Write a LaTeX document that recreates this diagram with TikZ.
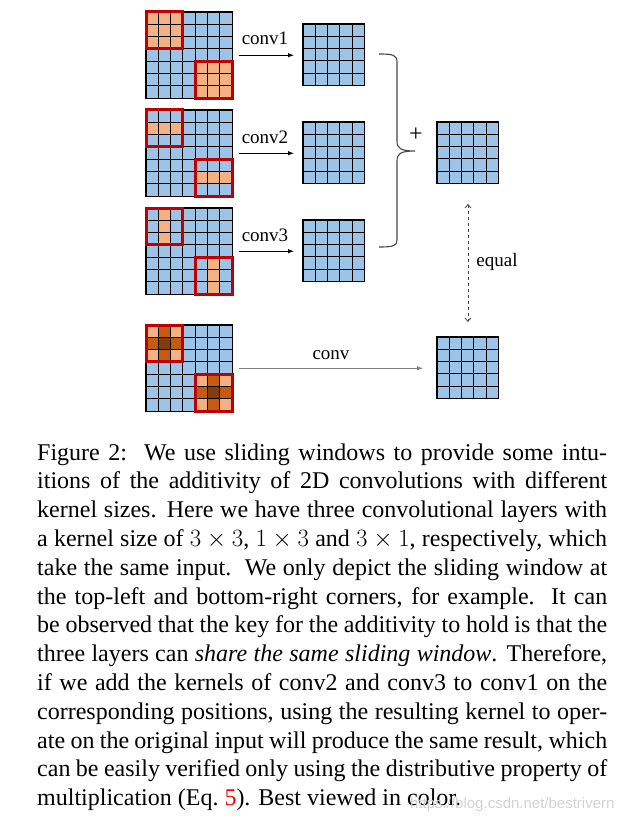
\documentclass[tikz,border=0pt]{standalone}
\usepackage[no-math]{fontspec}
\setmainfont{Liberation Serif}
\newfontfamily\wmfont{Liberation Sans}
\usetikzlibrary{arrows.meta}
\definecolor{cellblue}{RGB}{157,195,230}
\definecolor{cellorange}{RGB}{244,177,131}
\definecolor{cellmid}{RGB}{197,90,17}
\definecolor{celldark}{RGB}{132,60,12}
\definecolor{winred}{RGB}{192,0,0}
\definecolor{bracegray}{RGB}{70,70,70}
\definecolor{arrowgray}{RGB}{128,128,128}
\tikzset{
  gridline/.style={line width=1.1pt, black, line cap=rect},
  window/.style={line width=3pt, winred},
  lbl/.style={font=\fontsize{19}{22}\selectfont, inner sep=0pt},
  convarrow/.style={-{Latex[length=6pt,width=4.5pt]}, line width=0.9pt},
  gridbox/.style={inner sep=0pt, minimum width=#1, minimum height=#1, draw=none, anchor=north west},
  capline/.style={anchor=base west, inner sep=0pt, font=\fontsize{24}{28.8}\selectfont},
}
\def\cs{12.3}
\newcommand\bluegrid[3]{%
  \fill[cellblue] (#1,#2) rectangle ++({#3*\cs},{#3*\cs});
}
\newcommand\cellat[5]{%
  \fill[#5] ({#1+(#3)*\cs},{#2+(#4)*\cs}) rectangle ++(\cs,\cs);
}
\newcommand\gridlines[3]{%
  \foreach \i in {0,...,#3} {
    \draw[gridline] ({#1+\i*\cs},#2) -- ++(0,{#3*\cs});
    \draw[gridline] (#1,{#2+\i*\cs}) -- ++({#3*\cs},0);
  }
}
\newcommand\windows[2]{%
  \draw[window] (#1,#2) rectangle ++({3*\cs},{3*\cs});
  \draw[window] ({#1+4*\cs},{#2+4*\cs}) rectangle ++({3*\cs},{3*\cs});
}
\newcommand\capl[2]{\node[capline] at (37,#1) {\makebox[570pt][s]{#2}};}
\begin{document}
\begin{tikzpicture}[x=1pt,y=-1pt]
\useasboundingbox (0,0) rectangle (633,824);
% ---------- input grid 1 (3x3) ----------
\bluegrid{146}{12}{7}
\foreach \c in {0,1,2} \foreach \r in {0,1,2} {
  \cellat{146}{12}{\c}{\r}{cellorange}
  \cellat{146}{12}{\c+4}{\r+4}{cellorange}
}
\gridlines{146}{12}{7}
\windows{146}{12}
\node[gridbox=86.1pt] (in1) at (146,12) {};
% ---------- input grid 2 (1x3) ----------
\bluegrid{146}{110}{7}
\foreach \c in {0,1,2} {
  \cellat{146}{110}{\c}{1}{cellorange}
  \cellat{146}{110}{\c+4}{5}{cellorange}
}
\gridlines{146}{110}{7}
\windows{146}{110}
\node[gridbox=86.1pt] (in2) at (146,110) {};
% ---------- input grid 3 (3x1) ----------
\bluegrid{146}{208}{7}
\foreach \r in {0,1,2} {
  \cellat{146}{208}{1}{\r}{cellorange}
  \cellat{146}{208}{5}{\r+4}{cellorange}
}
\gridlines{146}{208}{7}
\windows{146}{208}
\node[gridbox=86.1pt] (in3) at (146,208) {};
% ---------- input grid 4 (combined) ----------
\bluegrid{146}{325}{7}
\foreach \o in {0,4} {
  \cellat{146}{325}{\o}{\o}{cellorange}
  \cellat{146}{325}{\o+2}{\o}{cellorange}
  \cellat{146}{325}{\o}{\o+2}{cellorange}
  \cellat{146}{325}{\o+2}{\o+2}{cellorange}
  \cellat{146}{325}{\o+1}{\o}{cellmid}
  \cellat{146}{325}{\o}{\o+1}{cellmid}
  \cellat{146}{325}{\o+2}{\o+1}{cellmid}
  \cellat{146}{325}{\o+1}{\o+2}{cellmid}
  \cellat{146}{325}{\o+1}{\o+1}{celldark}
}
\gridlines{146}{325}{7}
\windows{146}{325}
\node[gridbox=86.1pt] (in4) at (146,325) {};
% ---------- outputs ----------
\bluegrid{303}{24}{5}\gridlines{303}{24}{5}
\node[gridbox=61.5pt] (out1) at (303,24) {};
\bluegrid{303}{122}{5}\gridlines{303}{122}{5}
\node[gridbox=61.5pt] (out2) at (303,122) {};
\bluegrid{303}{220}{5}\gridlines{303}{220}{5}
\node[gridbox=61.5pt] (out3) at (303,220) {};
\bluegrid{437}{122}{5}\gridlines{437}{122}{5}
\node[gridbox=61.5pt] (sum) at (437,122) {};
\bluegrid{437}{337}{5}\gridlines{437}{337}{5}
\node[gridbox=61.5pt] (final) at (437,337) {};
% ---------- arrows ----------
\draw[convarrow] ([xshift=6pt]in1.east) -- ([xshift=-9pt]in1.east -| out1.west);
\draw[convarrow] ([xshift=6pt]in2.east) -- ([xshift=-9pt]in2.east -| out2.west);
\draw[convarrow] ([xshift=6pt]in3.east) -- ([xshift=-9pt]in3.east -| out3.west);
\draw[convarrow, arrowgray] ([xshift=6pt]in4.east) -- ([xshift=-14pt]in4.east -| final.west);
\node[lbl, anchor=base] (l1) at (265,45) {conv1};
\node[lbl, anchor=base] (l2) at (265,143) {conv2};
\node[lbl, anchor=base] (l3) at (265,241) {conv3};
\node[lbl, anchor=base] (l4) at (331,359) {conv};
% ---------- brace ----------
\draw[bracegray, line width=1.1pt]
  (379,54) .. controls (393,54) and (397,55) .. (397,62) -- (397,141)
  .. controls (397,148) and (400,151) .. (415,151)
  .. controls (400,151) and (397,154) .. (397,161) -- (397,240)
  .. controls (397,246) and (393,247) .. (379,247);
\node[lbl, font=\fontsize{24}{26}\selectfont] (plus) at (416,135) {+};
% ---------- equal ----------
\draw[bracegray, dashed, line width=0.8pt, {Straight Barb[length=3.5pt,width=6pt]}-{Straight Barb[length=3.5pt,width=6pt]},
  shorten <=20pt, shorten >=15pt] (sum.south) -- (final.north);
\node[lbl, anchor=base] (eq) at (497,266) {equal};
% ---------- caption ----------
\capl{460}{Figure 2:\ \ We use sliding windows to provide some intu-}
\capl{488.8}{itions of the additivity of 2D convolutions with different}
\capl{517.6}{kernel sizes. Here we have three convolutional layers with}
\capl{546.4}{a kernel size of $3\times3$, $1\times3$ and $3\times1$, respectively, which}
\capl{575.2}{take the same input.\ \ We only depict the sliding window at}
\capl{604}{the top-left and bottom-right corners, for example.\ \ It can}
\capl{632.8}{be observed that the key for the additivity to hold is that the}
\capl{661.6}{three layers can \textit{share the same sliding window}. Therefore,}
\capl{690.4}{if we add the kernels of conv2 and conv3 to conv1 on the}
\capl{719.2}{corresponding positions, using the resulting kernel to oper-}
\capl{748}{ate on the original input will produce the same result, which}
\capl{776.8}{can be easily verified only using the distributive property of}
\node[capline] (lastline) at (37,805.6) {multiplication (Eq.~\textcolor{red}{5}). Best viewed in color.};
\node[anchor=base west, inner sep=0pt, text=gray!35, font=\wmfont\fontsize{15}{18}\selectfont] (wm) at (410,808) {https://blog.csdn.net/bestrivern};
\end{tikzpicture}
\end{document}
